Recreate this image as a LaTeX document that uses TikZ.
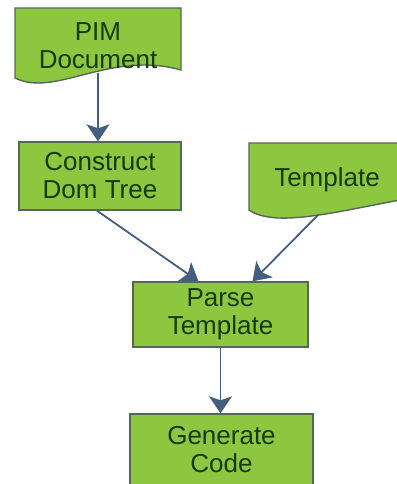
\documentclass[tikz,border=0pt]{standalone}
\usepackage{fontspec}
\setmainfont{Liberation Sans}
\usetikzlibrary{arrows.meta,calc}
\definecolor{boxfill}{RGB}{141,198,63}
\definecolor{boxdraw}{RGB}{84,104,88}
\definecolor{txt}{RGB}{22,58,12}
\definecolor{arr}{RGB}{68,94,126}
\begin{document}
\begin{tikzpicture}[x=1pt,y=-1pt,
  shapeline/.style={draw=boxdraw,line width=1.4pt,fill=boxfill},
  proc/.style={shapeline,rectangle,inner sep=0pt,align=center,text=txt,
    font=\fontsize{26}{28}\selectfont},
  lbl/.style={align=center,text=txt,font=\fontsize{26}{28}\selectfont,inner sep=0pt},
  conn/.style={draw=arr,line width=1.8pt,-{Stealth[length=17pt,width=23pt,inset=4pt]}}]
\useasboundingbox (0,0) rectangle (396,484);
% PIM Document shape
\path[shapeline] (15,78) -- (15,8) -- (181,8) -- (181,70)
  .. controls (110,50) and (55,98) .. (15,78) -- cycle;
\node[lbl] (pim) at (98,46) {PIM\\Document};
\coordinate (pimout) at (98,73);
% Template shape
\path[shapeline] (249,210) -- (249,143) -- (400,143) -- (400,200)
  .. controls (335,212) and (275,228) .. (249,210) -- cycle;
\node[lbl] (tpl) at (327,180) {Template};
\coordinate (tplout) at (318,215);
% process boxes
\node[proc,minimum width=162pt,minimum height=68pt] (construct) at (100,176) {Construct\\Dom Tree};
\node[proc,minimum width=175pt,minimum height=65pt] (parse) at (220.5,314.5) {Parse\\Template};
\node[proc,minimum width=183pt,minimum height=72pt] (generate) at (221.5,450) {Generate\\Code};
% connectors
\draw[conn] (pimout) -- (pim.south |- construct.north);
\draw[conn] ($(construct.south)+(-3,0)$) -- ($(parse.north)+(-22,0)$);
\draw[conn] (tplout) -- ($(parse.north)+(32,0)$);
\draw[conn] (parse.south) -- (parse.south |- generate.north);
\end{tikzpicture}
\end{document}
